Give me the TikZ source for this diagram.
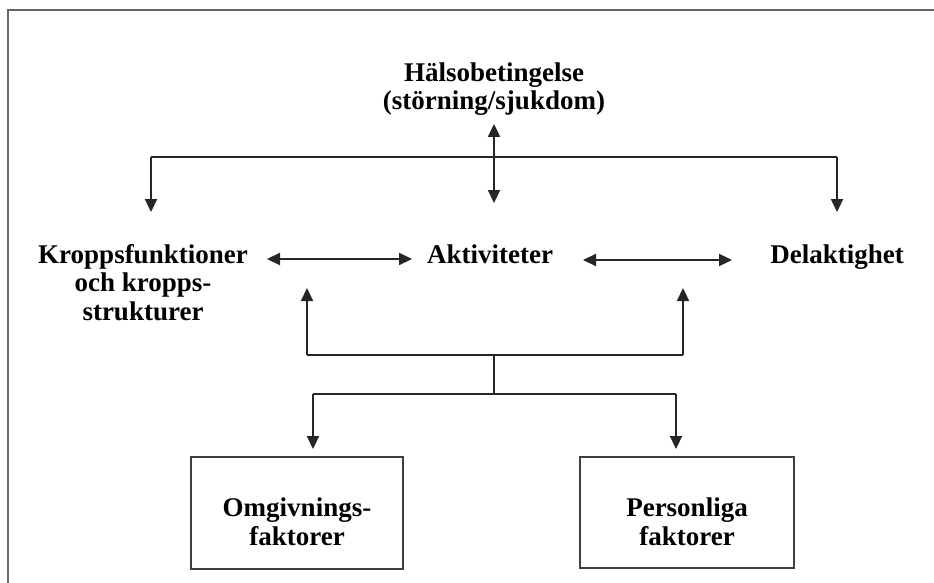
\documentclass[tikz,border=0pt]{standalone}
\usepackage{fontspec}
\setmainfont{Liberation Serif}
\usetikzlibrary{arrows.meta}
\begin{document}
\begin{tikzpicture}[x=1pt,y=-1pt,
  lbl/.style={font=\fontsize{27}{28.5}\selectfont\bfseries, align=center, inner sep=0pt, anchor=base},
  conn/.style={line width=2.2pt, black!85},
  arr/.style={conn, -{Triangle[length=13pt,width=12pt]}},
  darr/.style={conn, {Triangle[length=13pt,width=12pt]}-{Triangle[length=13pt,width=12pt]}},
  boxstyle/.style={draw=black!75, line width=1.5pt},
  framestyle/.style={draw=black!60, line width=1.5pt}]
\useasboundingbox (0,0) rectangle (934,583);
\fill[white] (0,0) rectangle (934,583);
% open frame
\draw[framestyle] (8,583) -- (8,10) -- (934,10);
% text labels (anchor base = baseline of last line)
\node[lbl] (hal) at (494,110) {Hälsobetingelse\\(störning/sjukdom)};
\node[lbl] (kro) at (143,320) {Kroppsfunktioner\\och kropps-\\strukturer};
\node[lbl] (akt) at (490,263) {Aktiviteter};
\node[lbl] (del) at (837,263) {Delaktighet};
% boxes
\draw[boxstyle] (191,457) rectangle (403,569);
\draw[boxstyle] (580,457) rectangle (794,568);
\node[lbl] (omg) at (297,545) {Omgivnings-\\faktorer};
\node[lbl] (per) at (687,545) {Personliga\\faktorer};
% connection points
\coordinate (tl) at (151,157);
\coordinate (tr) at (837,157);
\coordinate (tlend) at (151,212);
\coordinate (trend) at (837,212);
\coordinate (ctop) at (494,124);
\coordinate (cbot) at (494,203);
\coordinate (hl1) at (267,259);
\coordinate (hl2) at (412,259);
\coordinate (hr1) at (583,260);
\coordinate (hr2) at (732,260);
\coordinate (ul) at (307,355);
\coordinate (ur) at (683,355);
\coordinate (ultip) at (307,288);
\coordinate (urtip) at (683,288);
\coordinate (stemtop) at (494,355);
\coordinate (stembot) at (494,394);
\coordinate (ll) at (313,394);
\coordinate (lr) at (676,394);
\coordinate (lltip) at (313,449);
\coordinate (lrtip) at (676,449);
% top distribution
\draw[conn] (tl) -- (tr);
\draw[arr] (tl) -- (tlend);
\draw[arr] (tr) -- (trend);
\draw[darr] (ctop) -- (cbot);
% middle row
\draw[darr] (hl1) -- (hl2);
\draw[darr] (hr1) -- (hr2);
% upward feedback
\draw[conn] (ul) -- (ur);
\draw[arr] (ul) -- (ultip);
\draw[arr] (ur) -- (urtip);
\draw[line width=1.4pt, black!85] (stemtop) -- (stembot);
% lower distribution
\draw[conn] (ll) -- (lr);
\draw[arr] (ll) -- (lltip);
\draw[arr] (lr) -- (lrtip);
\end{tikzpicture}
\end{document}
